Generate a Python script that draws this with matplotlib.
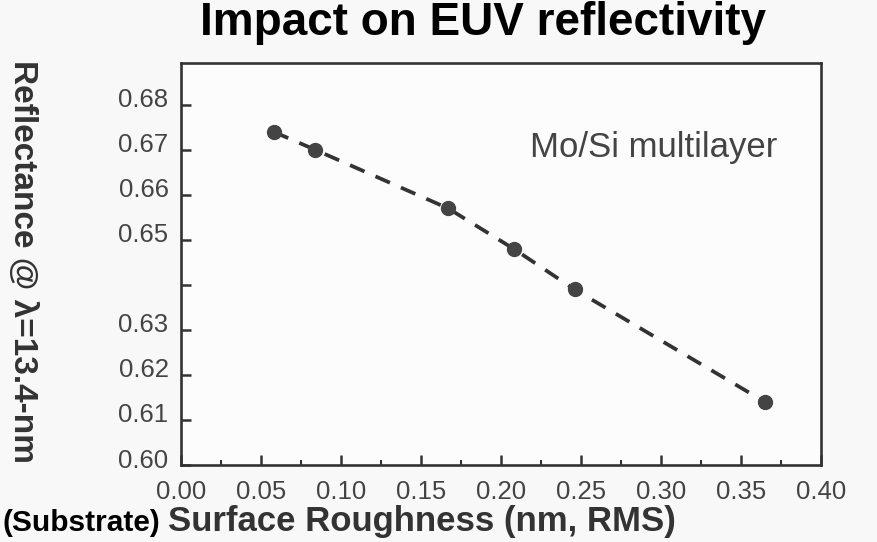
import matplotlib.pyplot as plt
import matplotlib.transforms as mtransforms
from matplotlib.ticker import MultipleLocator

# data
roughness = [0.058, 0.084, 0.167, 0.208, 0.246, 0.365]
reflectance = [0.674, 0.670, 0.657, 0.648, 0.639, 0.614]

y_ticks = [0.60, 0.61, 0.62, 0.63, 0.64, 0.65, 0.66, 0.67, 0.68]
y_tick_labels = ["0.60", "0.61", "0.62", "0.63", "", "0.65", "0.66", "0.67", "0.68"]
x_ticks = [0.00, 0.05, 0.10, 0.15, 0.20, 0.25, 0.30, 0.35, 0.40]

plt.rcParams["font.family"] = ["Liberation Sans", "DejaVu Sans"]

ink = "#333333"
fig = plt.figure(figsize=(8.77, 5.42), dpi=100, facecolor="#f8f8f8")
ax = fig.add_axes([181 / 877, 77 / 542, 640 / 877, 402 / 542])
ax.set_facecolor("#fcfcfc")

ax.plot(roughness, reflectance, color=ink, linestyle=(0, (4.2, 3.2)),
        linewidth=2.7, marker="o", markersize=10, markerfacecolor="#444444",
        markeredgecolor="#444444")

ax.set_xlim(0.0, 0.40)
ax.set_ylim(0.60, 0.6893)
ax.set_xticks(x_ticks)
ax.set_xticklabels([f"{v:.2f}" for v in x_ticks])
ax.xaxis.set_minor_locator(MultipleLocator(0.025))
ax.set_yticks(y_ticks)
ax.set_yticklabels(y_tick_labels)

for s in ax.spines.values():
    s.set_linewidth(1.9)
    s.set_color(ink)

ax.tick_params(axis="both", which="major", direction="in", length=7, width=1.8,
               color=ink, labelsize=18.5, labelcolor="#444444")
ax.tick_params(axis="x", which="major", pad=11)
ax.tick_params(axis="y", which="major", pad=9)
ax.tick_params(axis="x", which="minor", direction="in", length=3.5, width=1.5,
               color=ink)
ax.tick_params(top=False, right=False, which="both")

# scanned y labels sit a bit above their ticks
shift = mtransforms.ScaledTranslation(0, 7 / 100, fig.dpi_scale_trans)
for lab in ax.get_yticklabels():
    lab.set_transform(lab.get_transform() + shift)

ax.text(0.218, 0.6684, "Mo/Si multilayer", fontsize=25, color="#444444",
        va="baseline", ha="left")

fig.text(483 / 877, 1 - 35 / 542, "Impact on EUV reflectivity", fontsize=33,
         fontweight="bold", color="black", ha="center", va="baseline")

fig.text(22 / 877, 1 - 262 / 542, "Reflectance @ \u03bb=13.4-nm", fontsize=24,
         fontweight="bold", color=ink, rotation=-90, ha="center", va="center")

fig.text(3 / 877, 1 - 531 / 542, "(Substrate)", fontsize=21.5,
         fontweight="bold", color="black", ha="left", va="baseline")
fig.text(168 / 877, 1 - 531 / 542, "Surface Roughness (nm, RMS)", fontsize=25,
         fontweight="bold", color=ink, ha="left", va="baseline")

fig.savefig("out.png", dpi=100, facecolor=fig.get_facecolor())
